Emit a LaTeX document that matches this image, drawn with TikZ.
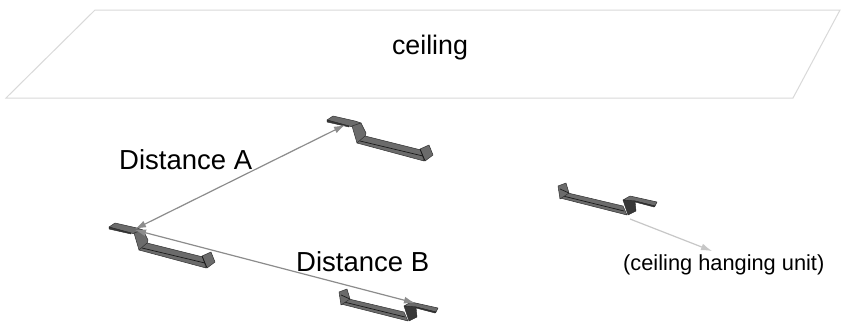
\documentclass[tikz,border=0pt]{standalone}
\usepackage{fontspec}
\setmainfont{Liberation Sans}
\usetikzlibrary{arrows.meta}
\tikzset{
  dk/.style={fill=black!78,draw=black!85,line width=0.4pt,line join=round},
  md/.style={fill=black!58,draw=black!80,line width=0.5pt,line join=round},
  seam/.style={draw=black!90,line width=0.7pt},
  lab/.style={inner sep=0pt,text=black},
  arr/.style={draw=black!45,line width=1.2pt,{Latex[length=11pt,width=7pt]}-{Latex[length=11pt,width=7pt]}},
  arrlight/.style={draw=black!22,line width=1.2pt,-{Latex[length=11pt,width=7pt]}},
  hookr/.pic={
    \path[md] (0,0)--(6,-4)--(28,1)--(34,3)--(26,7)--(22,6)--cycle;
    \path[dk] (0,0)--(22,6)--(22,7)--(0,2)--cycle;
    \path[md] (25,6)--(34,3)--(39,13)--(38,17)--(30,23)--cycle;
    \path[md] (30,23)--(38,16)--(94,30)--(97,41)--cycle;
    \path[seam] (33,21)--(96,36);
    \path[md] (93,29)--(102,25)--(106,35)--(98,41)--cycle;
    \path[seam] (93,29)--(98,41);
  },
  hookl/.pic={
    \path[md] (-34,-3)--(-27,-7)--(0,-1)--(-2,3)--(-22,-2)--cycle;
    \path[dk] (-2,3)--(-22,-2)--(-22,-1)--(-3,4)--cycle;
    \path[md] (-34,3)--(-89,-10)--(-97,-5)--(-30,12)--cycle;
    \path[seam] (-33,8)--(-94,-7);
    \path[dk] (-34,-3)--(-22,-2)--(-21,8)--(-29,12)--(-32,3)--cycle;
    \path[md] (-99,-17)--(-91,-20)--(-88,-10)--(-97,-4)--cycle;
    \path[seam] (-88,-10)--(-97,-14);
  }
}
\begin{document}
\begin{tikzpicture}[x=1pt,y=-1pt]
\useasboundingbox (0,0) rectangle (841,322);
\fill[white] (0,0) rectangle (841,322);
\draw[draw=black!15,line width=1pt] (95,10)--(840,10)--(793,98)--(6,98)--cycle;
\node[lab,font=\fontsize{26.8}{30}\selectfont] (ceil) at (430,48) {ceiling};
\pic at (109,227) {hookr};
\pic at (327,120) {hookr};
\pic at (438,309) {hookl};
\pic at (657,203) {hookl};
\coordinate (a1) at (135,229);
\coordinate (a2) at (345,125);
\coordinate (b1) at (135,230);
\coordinate (b2) at (415,303);
\coordinate (c1) at (630,219);
\coordinate (c2) at (712,251);
\draw[arr] (a1)--(a2);
\draw[arr] (b1)--(b2);
\draw[arrlight] (c1)--(c2);
\node[lab,font=\fontsize{27.5}{30}\selectfont,anchor=west] (da) at (119,160) {Distance A};
\node[lab,font=\fontsize{27.5}{30}\selectfont,anchor=west] (db) at (296,262) {Distance B};
\node[lab,font=\fontsize{21.8}{26}\selectfont,anchor=west] (hu) at (623,265) {(ceiling hanging unit)};
\end{tikzpicture}
\end{document}
